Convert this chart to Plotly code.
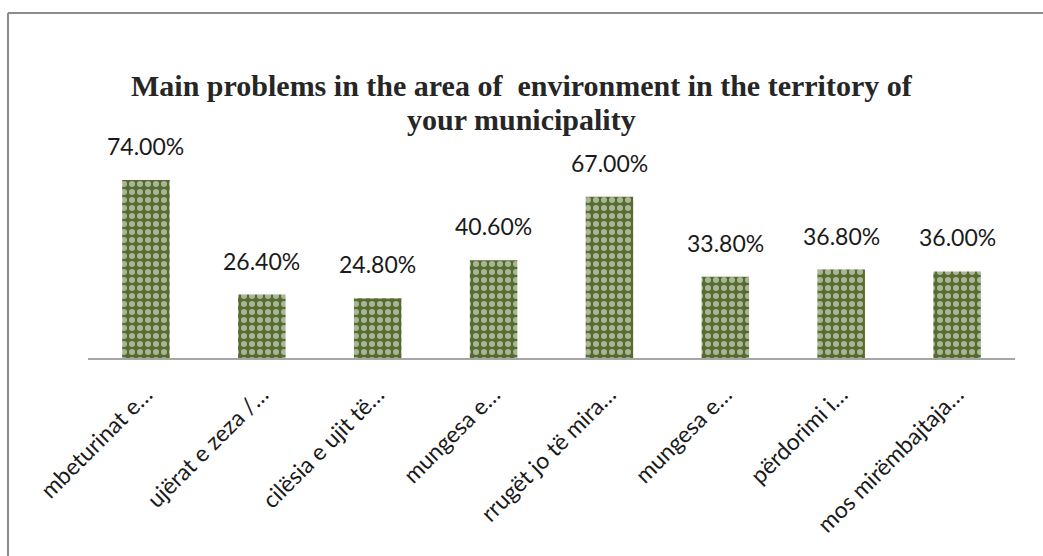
import plotly.graph_objects as go

# Survey results: share of respondents naming each environmental problem
categories = [
    "mbeturinat e…",
    "ujërat e zeza /…",
    "cilësia e ujit të…",
    "mungesa e…",
    "rrugët jo të mira…",
    "mungesa e…",
    "përdorimi i…",
    "mos mirëmbajtaja…",
]
values = [74.0, 26.4, 24.8, 40.6, 67.0, 33.8, 36.8, 36.0]
value_labels = ["74.00%", "26.40%", "24.80%", "40.60%", "67.00%", "33.80%", "36.80%", "36.00%"]

title_lines = ["Main problems in the area of  environment in the territory of", "your municipality"]

positions = list(range(len(categories)))

GREEN = "#556B2F"
W, H = 1043, 556
ML, MR, MT, MB = 88, 28, 100, 198
plot_h = H - MT - MB
pw = W - ML - MR

fig = go.Figure()
fig.add_trace(go.Bar(
    x=positions,
    y=values,
    width=0.41,
    marker=dict(
        color=GREEN,
        line=dict(width=0),
        pattern=dict(shape=".", fgcolor="white", bgcolor=GREEN,
                     size=8, solidity=0.45, fillmode="overlay"),
    ),
    hoverinfo="skip",
))

# value labels above each bar
for xi, v, t in zip(positions, values, value_labels):
    fig.add_annotation(x=xi, y=v, text=t, showarrow=False, yanchor="bottom",
                       yshift=18, font=dict(family="Lato", size=23, color="#1a1a1a"))

# two-line chart title, set a little tighter than the default line height
title_font = dict(family="Liberation Serif", size=30, color="#262626", weight="bold")
for line, py in zip(title_lines, [86, 119]):
    fig.add_annotation(text=line, showarrow=False, xref="paper", yref="paper",
                       x=(W / 2 - ML) / pw, y=(H - MB - py) / plot_h,
                       xanchor="center", yanchor="middle", font=title_font)

fig.update_layout(
    width=W, height=H,
    margin=dict(l=ML, r=MR, t=MT, b=MB),
    paper_bgcolor="white", plot_bgcolor="white",
    showlegend=False,
    xaxis=dict(
        range=[-0.5, len(categories) - 0.5],
        tickmode="array", tickvals=positions, ticktext=categories,
        tickangle=-45, ticks="", showgrid=False, zeroline=False,
        showline=True, linecolor="#a6a6a6", linewidth=2,
        ticklabelstandoff=12,
        tickfont=dict(family="Lato", size=23, color="#1a1a1a"),
    ),
    yaxis=dict(range=[0, plot_h / 2.405], visible=False, showgrid=False),
)

# outer chart frame (top and left edges; right/bottom run past the page)
fig.add_shape(type="line", xref="paper", yref="paper",
              x0=(8 - ML) / pw, x1=(W + 5 - ML) / pw,
              y0=(H - MB - 13) / plot_h, y1=(H - MB - 13) / plot_h,
              line=dict(color="#8c8c8c", width=2))
fig.add_shape(type="line", xref="paper", yref="paper",
              x0=(8 - ML) / pw, x1=(8 - ML) / pw,
              y0=(H - MB - 13) / plot_h, y1=-(MB + 5) / plot_h,
              line=dict(color="#8c8c8c", width=2))

fig.write_html("out.html")
